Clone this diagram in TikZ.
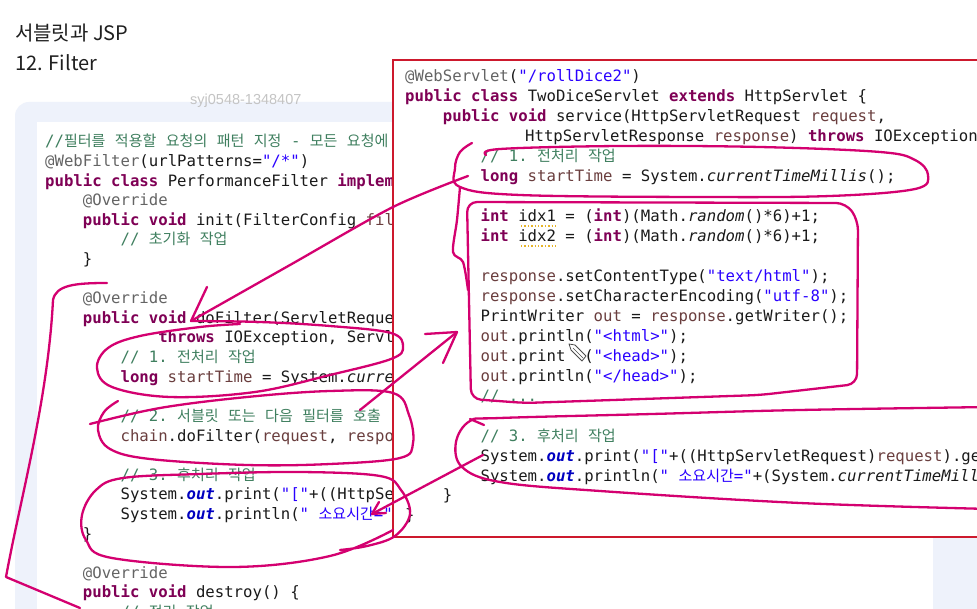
\documentclass[tikz,border=0pt]{standalone}
\usepackage{fontspec}
\setmonofont{DejaVu Sans Mono}
\newfontfamily\krfont{Noto Sans CJK KR}[Scale=0.96]
\newfontfamily\titlefont{Noto Sans CJK KR}
\newfontfamily\wmfont{Liberation Sans}
\usetikzlibrary{arrows.meta}
\definecolor{kwc}{HTML}{7F0055}
\definecolor{cmc}{HTML}{3F7F5F}
\definecolor{stc}{HTML}{2A00FF}
\definecolor{anc}{HTML}{646464}
\definecolor{lvc}{HTML}{6A3E3E}
\definecolor{sfc}{HTML}{0000C0}
\definecolor{txc}{HTML}{1A1A1A}
\definecolor{mkc}{RGB}{212,0,112}
\definecolor{panelc}{RGB}{238,242,251}
\definecolor{redc}{RGB}{205,25,45}
\definecolor{wmc}{RGB}{196,196,196}
\definecolor{warnc}{RGB}{230,180,40}
\newcommand\Ckw[1]{{\color{kwc}\bfseries #1}}
\newcommand\Ccm[1]{{\color{cmc}#1}}
\newcommand\Cst[1]{{\color{stc}#1}}
\newcommand\Can[1]{{\color{anc}#1}}
\newcommand\Clv[1]{{\color{lvc}#1}}
\newcommand\Csf[1]{{\color{sfc}\bfseries\itshape #1}}
\newcommand\Csm[1]{{\itshape #1}}
\newcommand\Kr[1]{{\krfont #1}}
\newcommand\LeftLine[4]{\node[codel] (#1) at ({45+37.7*#2},{147+19.6*#3}) {#4};}
\newcommand\RightLine[4]{\node[codel] (#1) at ({405+37.7*#2},{82+19.95*#3}) {#4};}
\tikzset{
  codel/.style={anchor=base west, inner sep=0pt, text=txc,
    font={\ttfamily\fontsize{15.66pt}{19pt}\selectfont}},
  titletxt/.style={anchor=base west, inner sep=0pt, text=black!88,
    font={\titlefont\fontsize{20pt}{24pt}\selectfont}},
  mk/.style={draw=mkc, line width=2.3pt, line cap=round, line join=round},
}
\begin{document}
\begin{tikzpicture}[x=1pt,y=-1pt]
\useasboundingbox (0,0) rectangle (977,609);
\clip (0,0) rectangle (977,609);
\fill[white] (0,0) rectangle (977,609);

% titles
\node[titletxt] (title1) at (15,41) {서블릿과 JSP};
\node[titletxt] (title2) at (15,71) {12. Filter};

% left panel
\fill[panelc, rounded corners=14pt] (15,102) rectangle (1010,700);
\fill[white] (37,122) rectangle (933,700);
\node[anchor=base west, inner sep=0pt, text=wmc,
  font={\wmfont\fontsize{14.5pt}{17pt}\selectfont}] (wm) at (190,105) {syj0548-1348407};

% left code (filter), cut where the red panel covers it
\LeftLine{l0}{0}{0}{\Ccm{//\Kr{필터를} \Kr{적용할} \Kr{요청의} \Kr{패턴} \Kr{지정} - \Kr{모든} \Kr{요청에}}}
\LeftLine{l1}{0}{1}{\Can{@WebFilter}(urlPatterns=\Cst{"/*"})}
\LeftLine{l2}{0}{2}{\Ckw{public} \Ckw{class} PerformanceFilter \Ckw{implem}}
\LeftLine{l3}{1}{3}{\Can{@Override}}
\LeftLine{l4}{1}{4}{\Ckw{public} \Ckw{void} init(FilterConfig \Clv{fil}}
\LeftLine{l5}{2}{5}{\Ccm{// \Kr{초기화} \Kr{작업}}}
\LeftLine{l6}{1}{6}{\}}
\LeftLine{l8}{1}{8}{\Can{@Override}}
\LeftLine{l9}{1}{9}{\Ckw{public} \Ckw{void} doFilter(ServletReque}
\LeftLine{l10}{3}{10}{\Ckw{throws} IOException, Servl}
\LeftLine{l11}{2}{11}{\Ccm{// 1. \Kr{전처리} \Kr{작업}}}
\LeftLine{l12}{2}{12}{\Ckw{long} \Clv{startTime} = System.\Csm{curre}}
\LeftLine{l14}{2}{14}{\Ccm{// 2. \Kr{서블릿} \Kr{또는} \Kr{다음} \Kr{필터를} \Kr{호출}}}
\LeftLine{l15}{2}{15}{\Clv{chain}.doFilter(\Clv{request}, \Clv{respo}}
\LeftLine{l17}{2}{17}{\Ccm{// 3. \Kr{후처리} \Kr{작업}}}
\LeftLine{l18}{2}{18}{System.\Csf{out}.print(\Cst{"["}+((HttpSe}
\LeftLine{l19}{2}{19}{System.\Csf{out}.println(\Cst{" \Kr{소요시간}="}}
\LeftLine{l20}{1}{20}{\}}
\LeftLine{l22}{1}{22}{\Can{@Override}}
\LeftLine{l23}{1}{23}{\Ckw{public} \Ckw{void} destroy() \{}
\LeftLine{l24}{2}{24}{\Ccm{// \Kr{정리} \Kr{작업}}}

% right panel (servlet)
\draw[redc, line width=2pt, fill=white] (393,60) rectangle (1010,537);
\RightLine{r0}{0}{0}{\Can{@WebServlet}(\Cst{"/rollDice2"})}
\RightLine{r1}{0}{1}{\Ckw{public} \Ckw{class} TwoDiceServlet \Ckw{extends} HttpServlet \{}
\RightLine{r2}{1}{2}{\Ckw{public} \Ckw{void} service(HttpServletRequest \Clv{request},}
\node[codel] (r3) at (525,{82+19.95*3}) {HttpServletResponse \Clv{response}) \Ckw{throws} IOException};
\RightLine{r4}{2}{4}{\Ccm{// 1. \Kr{전처리} \Kr{작업}}}
\RightLine{r5}{2}{5}{\Ckw{long} \Clv{startTime} = System.\Csm{currentTimeMillis}();}
\RightLine{r7}{2}{7}{\Ckw{int} idx1 = (\Ckw{int})(Math.\Csm{random}()*6)+1;}
\RightLine{r8}{2}{8}{\Ckw{int} idx2 = (\Ckw{int})(Math.\Csm{random}()*6)+1;}
\RightLine{r10}{2}{10}{\Clv{response}.setContentType(\Cst{"text/html"});}
\RightLine{r11}{2}{11}{\Clv{response}.setCharacterEncoding(\Cst{"utf-8"});}
\RightLine{r12}{2}{12}{PrintWriter \Clv{out} = \Clv{response}.getWriter();}
\RightLine{r13}{2}{13}{\Clv{out}.println(\Cst{"<html>"});}
\RightLine{r14}{2}{14}{\Clv{out}.print\phantom{ln}(\Cst{"<head>"});}
\RightLine{r15}{2}{15}{\Clv{out}.println(\Cst{"</head>"});}
\RightLine{r16}{2}{16}{\Ccm{// ...}}
\RightLine{r18}{2}{18}{\Ccm{// 3. \Kr{후처리} \Kr{작업}}}
\RightLine{r19}{2}{19}{System.\Csf{out}.print(\Cst{"["}+((HttpServletRequest)\Clv{request}).ge}
\RightLine{r20}{2}{20}{System.\Csf{out}.println(\Cst{" \Kr{소요시간}="}+(System.\Csm{currentTimeMill}}
\RightLine{r21}{1}{21}{\}}
\RightLine{r22}{0}{22}{\}}

% warning underlines and mouse cursor
\draw[warnc, line width=1.4pt, dotted] (521,226) -- (558,226);
\draw[warnc, line width=1.4pt, dotted] (521,246) -- (558,246);
\draw[fill=white, draw=black!70, line width=0.8pt, line join=round]
  (569,344) -- (575,345) -- (586,356) -- (582,361) -- (571,350) -- cycle;
\draw[black!70, line width=0.6pt] (573,348) -- (583,358);

% hand-drawn annotations
\draw[mk] (107,283) .. controls (75,283) and (56,285) .. (53,300)
  .. controls (48,400) and (20,500) .. (6,577) -- (80,608);
\draw[mk] (207,287) -- (191,321);
\draw[mk] plot[smooth, tension=0.6] coordinates {(191,321) (260,322) (330,326) (391,333) (403,347) (391,359) (330,375) (255,392) (170,397) (112,387) (97,368) (108,348) (140,336) (200,327) (240,324)};
\draw[mk] plot[smooth] coordinates {(191,321) (290,265) (393,207) (468,176)};
\draw[mk] plot[smooth, tension=0.6] coordinates {(90,424) (160,408) (247,397) (330,391) (393,393) (409,415) (413,443) (400,458) (330,464) (247,465) (150,459) (110,449) (98,430) (104,412) (118,401)};
\draw[mk] (360,410) -- (457,332);
\draw[mk] (425,334) -- (457,332) -- (443,363);
\draw[mk] plot[smooth, tension=0.6] coordinates {(340,550) (367,546) (395,536) (410,514) (401,490) (380,476) (300,472) (200,474) (123,478) (96,490) (82,515) (86,540) (112,558) (233,567) (330,556) (393,530)};
\draw[mk] plot[smooth, tension=0.6] coordinates {(472,143) (460,152) (455,168) (460,187) (520,195) (700,197) (830,196) (915,189) (928,175) (915,160) (880,152) (760,147) (620,146) (500,149) (486,155)};
\draw[mk] plot[smooth] coordinates {(460,187) (457,220) (453,252) (463,262) (468,290)};
\draw[mk, rounded corners=10pt] (467,202) -- (846,203) -- (858,220) -- (857,384) -- (760,395) -- (525,403) -- (471,399) -- cycle;
\draw[mk] plot[smooth, tension=0.6] coordinates {(990,407) (800,410) (652,414) (500,418) (470,421) (456,442) (462,467) (500,482) (600,491) (800,503) (990,509)};
\draw[mk] (470,419) -- (484,425);
\draw[mk] (483,455) -- (372,514);
\draw[mk] (379,502) -- (372,514) -- (386,513);
\end{tikzpicture}
\end{document}
